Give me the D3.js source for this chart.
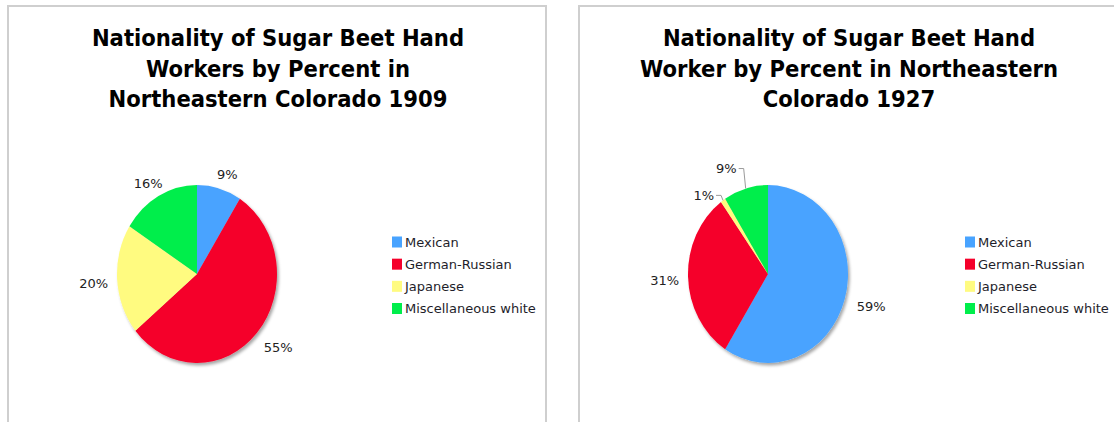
<!DOCTYPE html>
<html>
<head>
<meta charset="utf-8">
<script src="https://cdn.jsdelivr.net/npm/d3@7"></script>
<style>
  html, body { margin: 0; padding: 0; background: #fff; }
  svg { display: block; }
</style>
</head>
<body>
<svg id="chart" width="1114" height="422"></svg>
<script>
// ---- data ----
const categories = ["Mexican", "German-Russian", "Japanese", "Miscellaneous white"];
const values1909 = [9, 55, 20, 16];
const values1927 = [59, 31, 1, 9];
const title1909 = ["Nationality of Sugar Beet Hand", "Workers by Percent in", "Northeastern Colorado 1909"];
const title1927 = ["Nationality of Sugar Beet Hand", "Worker by Percent in Northeastern", "Colorado 1927"];
const colors = ["#48a3ff", "#f5002a", "#fffb80", "#00ee4b"];

// ---- layout ----
const svg = d3.select("#chart");
const defs = svg.append("defs");
const filt = defs.append("filter").attr("id", "shadow")
  .attr("x", "-20%").attr("y", "-20%").attr("width", "140%").attr("height", "140%");
filt.append("feDropShadow").attr("dx", 2).attr("dy", 2.5).attr("stdDeviation", 1.6)
  .attr("flood-color", "#000").attr("flood-opacity", 0.35);

const R = 89;          // vertical radius
const RX = 80;         // horizontal radius (chart is slightly squeezed)
const sx = RX / R;
const titleSqueeze = 0.92;

const panels = [
  { left: 8, width: 538, cx: 197, cy: 274, titleX: 278, legendX: 392,
    values: values1909, title: title1909, leaders: {} },
  { left: 579, width: 600, cx: 768, cy: 274, titleX: 849, legendX: 965,
    values: values1927, title: title1927, leaders: { "Japanese": 5, "Miscellaneous white": 20 } }
];

const color = d3.scaleOrdinal().domain(categories).range(colors);
const pie = d3.pie().sort(null).value(d => d.value);
const arc = d3.arc().innerRadius(0).outerRadius(R);

panels.forEach(p => {
  const g = svg.append("g");

  // frame
  g.append("rect")
    .attr("x", p.left).attr("y", 6).attr("width", p.width).attr("height", 520)
    .attr("fill", "none").attr("stroke", "#cfcfcf").attr("stroke-width", 2);

  // title
  p.title.forEach((line, i) => {
    const t = g.append("text")
      .attr("x", p.titleX).attr("y", 46 + i * 30.5)
      .attr("text-anchor", "middle")
      .attr("font-family", "DejaVu Sans, Verdana, sans-serif")
      .attr("font-weight", "bold").attr("font-size", 23).attr("fill", "#000")
      .text(line);
    const len = t.node().getComputedTextLength();
    t.attr("textLength", len * titleSqueeze).attr("lengthAdjust", "spacingAndGlyphs");
  });

  const data = categories.map((c, i) => ({ cat: c, value: p.values[i] }));
  const arcs = pie(data);

  // pie (elliptical)
  const pg = g.append("g")
    .attr("transform", `translate(${p.cx},${p.cy}) scale(${sx},1)`)
    .attr("filter", "url(#shadow)");
  pg.selectAll("path").data(arcs).join("path")
    .attr("d", arc)
    .attr("fill", d => color(d.data.cat));

  // labels
  const lg = g.append("g").attr("transform", `translate(${p.cx},${p.cy})`)
    .attr("font-family", "DejaVu Sans, Verdana, sans-serif")
    .attr("font-size", 13).attr("fill", "#222");
  arcs.forEach(a => {
    const mid = (a.startAngle + a.endAngle) / 2;
    const s = Math.sin(mid), c = Math.cos(mid);
    const ex = RX * s, ey = -R * c;
    const txt = a.data.value + "%";
    const lift = p.leaders[a.data.cat];
    if (lift !== undefined) {
      const elx = ex - 2, ely = ey - lift;
      const endx = elx - 5;
      lg.append("path")
        .attr("d", `M${ex},${ey}L${elx},${ely}L${endx},${ely}`)
        .attr("fill", "none").attr("stroke", "#9a9a9a").attr("stroke-width", 1);
      lg.append("text")
        .attr("x", endx - 2).attr("y", ely)
        .attr("text-anchor", "end").attr("dominant-baseline", "central")
        .text(txt);
    } else {
      const node = lg.append("text")
        .attr("text-anchor", "middle").attr("dominant-baseline", "central")
        .text(txt);
      const w = node.node().getComputedTextLength();
      const h = 13;
      const gap = 11;
      node.attr("x", ex + s * (gap + w / 2) + 2)
          .attr("y", ey - c * (gap + h / 2) + 3);
    }
  });

  // legend
  const leg = g.append("g")
    .attr("font-family", "DejaVu Sans, Verdana, sans-serif")
    .attr("font-size", 13).attr("fill", "#1e1e2a");
  const ly = d3.scalePoint().domain(categories).range([242, 308.5]);
  categories.forEach(cat => {
    leg.append("rect")
      .attr("x", p.legendX).attr("y", ly(cat) - 5.5)
      .attr("width", 10).attr("height", 11)
      .attr("fill", color(cat));
    leg.append("text")
      .attr("x", p.legendX + 13).attr("y", ly(cat))
      .attr("dominant-baseline", "central")
      .text(cat);
  });
});
</script>
</body>
</html>
